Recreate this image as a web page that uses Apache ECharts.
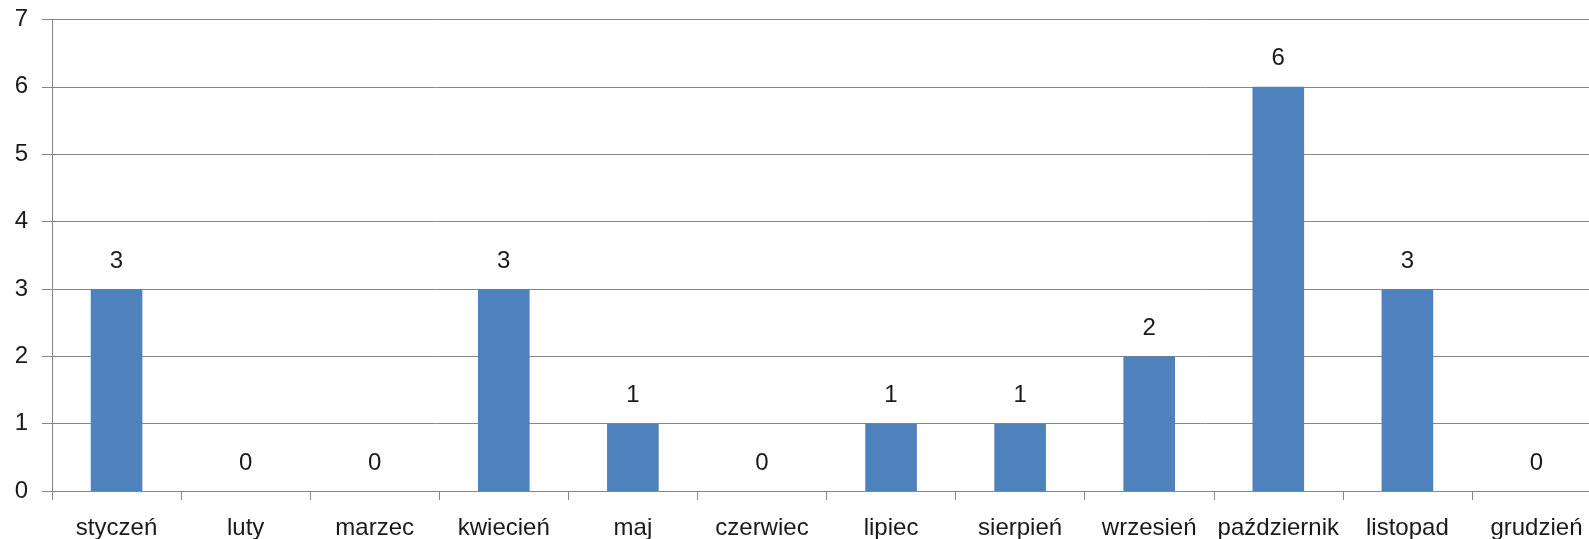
<!DOCTYPE html>
<html>
<head>
<meta charset="utf-8">
<script src="https://cdn.jsdelivr.net/npm/echarts@6/dist/echarts.min.js"></script>
<style>html,body{margin:0;padding:0;background:#fff}#c{width:1589px;height:539px}</style>
</head>
<body>
<div id="c"></div>
<script>
const categories = ['styczeń','luty','marzec','kwiecień','maj','czerwiec','lipiec','sierpień','wrzesień','październik','listopad','grudzień'];
const values = [3,0,0,3,1,0,1,1,2,6,3,0];
const yTicks = [0,1,2,3,4,5,6,7];

const chart = echarts.init(document.getElementById('c'));
const font = 'Liberation Sans';
chart.setOption({
  animation: false,
  grid: {left: 52, top: 19.5, height: 471.5, width: 1549, outerBoundsMode: 'none', containLabel: false},
  xAxis: {
    type: 'category',
    data: categories,
    axisLine: {lineStyle: {color: '#868686', width: 1}},
    axisTick: {show: true, length: 9, lineStyle: {color: '#868686'}},
    axisLabel: {color: '#1a1a1a', fontSize: 24, fontFamily: font, margin: 25, interval: 0}
  },
  yAxis: {
    type: 'value',
    min: yTicks[0], max: yTicks[yTicks.length-1], interval: 1,
    axisLine: {show: true, lineStyle: {color: '#868686', width: 1}},
    axisTick: {show: true, length: 10, lineStyle: {color: '#868686'}},
    splitLine: {lineStyle: {color: '#868686', width: 1}},
    axisLabel: {color: '#1a1a1a', fontSize: 24, fontFamily: font, margin: 24}
  },
  series: [{
    type: 'bar',
    data: values,
    barWidth: '40%',
    itemStyle: {color: '#4F81BD'},
    label: {show: true, position: 'top', distance: 16, color: '#1a1a1a', fontSize: 24, fontFamily: font}
  }]
});
</script>
</body>
</html>
